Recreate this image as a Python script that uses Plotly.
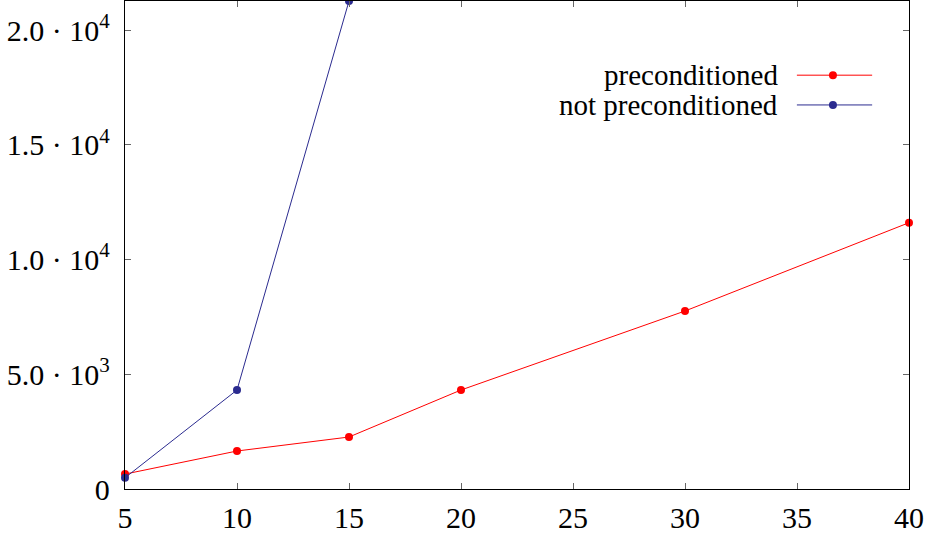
import plotly.graph_objects as go

x_pre = [5, 10, 15, 20, 30, 40]
y_pre = [650, 1656, 2266, 4314, 7756, 11604]
x_not = [5, 10, 15]
y_not = [490, 4314, 21264]

x_ticks = [5, 10, 15, 20, 25, 30, 35, 40]
y_ticks = [0, 5000, 10000, 15000, 20000]
y_ticktext = ["0", "5.0 · 10<sup>3</sup>", "1.0 · 10<sup>4</sup>", "1.5 · 10<sup>4</sup>", "2.0 · 10<sup>4</sup>"]
labels = ["preconditioned", "not preconditioned"]
colors = ["#ff0000", "#2b2b8f"]

FONT = "Liberation Serif"
FS = 30

fig = go.Figure()
fig.add_trace(go.Scatter(x=x_pre, y=y_pre, mode="lines+markers", name=labels[0],
                         line=dict(color=colors[0], width=1), marker=dict(size=8, color=colors[0]),
                         cliponaxis=False, showlegend=False))
fig.add_trace(go.Scatter(x=x_not, y=y_not, mode="lines+markers", name=labels[1],
                         line=dict(color=colors[1], width=1), marker=dict(size=8, color=colors[1]),
                         cliponaxis=False, showlegend=False))

# custom legend (text left of sample, as in pgfplots)
leg_y = [0.848, 0.787]
for lab, col, ly in zip(labels, colors, leg_y):
    fig.add_annotation(xref="paper", yref="paper", x=0.836, y=ly, text=lab, showarrow=False,
                       xanchor="right", yanchor="middle", font=dict(family=FONT, size=FS - 1, color="black"))
    fig.add_shape(type="line", xref="paper", yref="paper", x0=0.857, x1=0.953, y0=ly, y1=ly,
                  line=dict(color=col, width=1))
    fig.add_trace(go.Scatter(x=[0.903], y=[ly], xaxis="x2", yaxis="y2", mode="markers",
                             marker=dict(size=8, color=col), showlegend=False, hoverinfo="skip"))

axis_common = dict(showgrid=False, zeroline=False, showline=True, linecolor="black", linewidth=1.3,
                   mirror="allticks", ticks="inside", ticklen=6, tickcolor="#666666", tickwidth=1.2,
                   tickfont=dict(family=FONT, size=FS, color="black"))
fig.update_layout(
    width=925, height=538,
    margin=dict(l=125, r=16, t=1, b=49),
    paper_bgcolor="white", plot_bgcolor="white",
    xaxis=dict(range=[5, 40], tickvals=x_ticks, ticktext=[str(v) for v in x_ticks],
               ticklabelstandoff=2, **axis_common),
    yaxis=dict(range=[0, 21264], tickvals=y_ticks, ticktext=y_ticktext,
               ticklabelstandoff=8, **axis_common),
    xaxis2=dict(domain=[0, 1], range=[0, 1], overlaying="x", visible=False),
    yaxis2=dict(domain=[0, 1], range=[0, 1], overlaying="y", visible=False, anchor="x2"),
    font=dict(family=FONT),
)
fig.write_html("out.html")
